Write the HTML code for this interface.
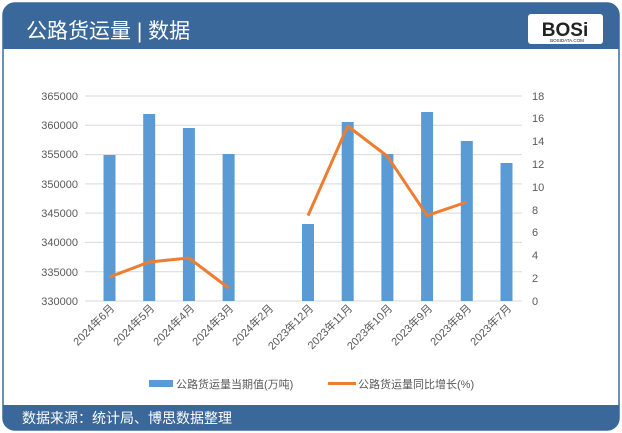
<!DOCTYPE html>
<html><head><meta charset="utf-8"><style>
html,body{margin:0;padding:0;background:#fff;}
svg{display:block;font-family:"Liberation Sans","Noto Sans CJK SC",sans-serif;}
</style></head><body>
<svg width="622" height="433" viewBox="0 0 622 433" xmlns="http://www.w3.org/2000/svg">
<rect x="0" y="0" width="622" height="433" fill="#fff"/>
<rect x="3" y="3" width="616" height="427" rx="12" fill="#fff" stroke="#3b6a9c" stroke-width="1.5"/>
<path d="M3 49 V15 A12 12 0 0 1 15 3 H607 A12 12 0 0 1 619 15 V49 Z" fill="#3a689b"/>
<path d="M3 405 H619 V418 A12 12 0 0 1 607 430 H15 A12 12 0 0 1 3 418 Z" fill="#3a689b"/>
<text x="26" y="38" font-size="21" fill="#fff">公路货运量 | 数据</text>
<rect x="528" y="14" width="75" height="30" rx="3" fill="#fff"/>
<text x="565" y="36" font-size="19" font-weight="bold" text-anchor="middle" fill="#222">BOSi</text>
<text x="567" y="42" font-size="4.5" text-anchor="middle" fill="#222">BOSIDATA.COM</text>
<text x="22" y="423" font-size="14" fill="#fff">数据来源：统计局、博思数据整理</text>
<g stroke="#d9d9d9" stroke-width="1">
<line x1="85" y1="96" x2="522" y2="96"/><line x1="85" y1="125.3" x2="522" y2="125.3"/>
<line x1="85" y1="154.6" x2="522" y2="154.6"/><line x1="85" y1="183.9" x2="522" y2="183.9"/>
<line x1="85" y1="213.1" x2="522" y2="213.1"/><line x1="85" y1="242.4" x2="522" y2="242.4"/>
<line x1="85" y1="271.7" x2="522" y2="271.7"/><line x1="85" y1="301" x2="522" y2="301"/>
</g>
<g font-size="11" fill="#595959" text-anchor="end">
<text x="78" y="100">365000</text><text x="78" y="129">360000</text><text x="78" y="158">355000</text>
<text x="78" y="188">350000</text><text x="78" y="217">345000</text><text x="78" y="246">340000</text>
<text x="78" y="276">335000</text><text x="78" y="305">330000</text>
</g>
<g font-size="11" fill="#595959">
<text x="532" y="100">18</text><text x="532" y="122">16</text><text x="532" y="145">14</text>
<text x="532" y="168">12</text><text x="532" y="191">10</text><text x="532" y="214">8</text>
<text x="532" y="236">6</text><text x="532" y="259">4</text><text x="532" y="282">2</text><text x="532" y="305">0</text>
</g>
<g fill="#5b9bd5">
<rect x="103.5" y="155" width="12" height="146"/>
<rect x="143.2" y="114" width="12" height="187"/>
<rect x="182.9" y="128" width="12" height="173"/>
<rect x="222.6" y="154" width="12" height="147"/>
<rect x="302" y="224" width="12" height="77"/>
<rect x="341.7" y="122" width="12" height="179"/>
<rect x="381.4" y="154" width="12" height="147"/>
<rect x="421.1" y="112" width="12" height="189"/>
<rect x="460.8" y="141" width="12" height="160"/>
<rect x="500.5" y="163" width="12" height="138"/>
</g>
<g fill="none" stroke="#ed7d31" stroke-width="3" stroke-linejoin="round">
<polyline points="109.5,277 149.2,262 188.9,258 228.6,288"/>
<polyline points="308,215.6 347.7,126 387.4,156.3 427.1,215.6 466.8,202"/>
</g>
<g font-size="11" fill="#595959" text-anchor="end">
<text transform="translate(115,309) rotate(-45)">2024年6月</text>
<text transform="translate(155,309) rotate(-45)">2024年5月</text>
<text transform="translate(195,309) rotate(-45)">2024年4月</text>
<text transform="translate(234,309) rotate(-45)">2024年3月</text>
<text transform="translate(274,309) rotate(-45)">2024年2月</text>
<text transform="translate(314,309) rotate(-45)">2023年12月</text>
<text transform="translate(353,309) rotate(-45)">2023年11月</text>
<text transform="translate(393,309) rotate(-45)">2023年10月</text>
<text transform="translate(433,309) rotate(-45)">2023年9月</text>
<text transform="translate(472,309) rotate(-45)">2023年8月</text>
<text transform="translate(512,309) rotate(-45)">2023年7月</text>
</g>
<rect x="149" y="380" width="24" height="7" fill="#5b9bd5"/>
<text x="176" y="388" font-size="11" fill="#595959">公路货运量当期值(万吨)</text>
<line x1="328" y1="383.5" x2="356" y2="383.5" stroke="#ed7d31" stroke-width="3"/>
<text x="358" y="388" font-size="11" fill="#595959">公路货运量同比增长(%)</text>
</svg>
</body></html>
